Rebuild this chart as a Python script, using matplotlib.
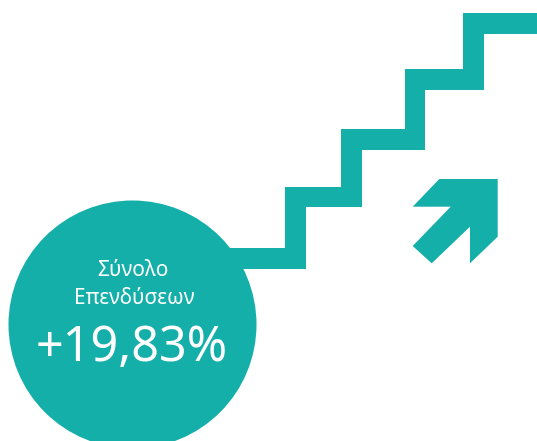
import matplotlib
matplotlib.use("Agg")
import matplotlib.pyplot as plt
from matplotlib.patches import Circle, Polygon

# ---- content ----
label_lines = ["Σύνολο", "Επενδύσεων"]
total_change_pct = 19.83

# ---- decoration geometry (pixel space of a 537x441 canvas) ----
W, H = 537, 441
tread_top_y = [248.3, 186.7, 129.3, 69.3, 13.3]
riser_left_x = [285.3, 341.3, 404.7, 463.3]
stair_thickness = 20.5
stair_start_x = 200
arrow_x = [439.3, 497.7, 497.7, 470.0, 470.0, 431.7, 412.7, 450.7, 412.7]
arrow_y = [179.0, 179.0, 236.7, 263.3, 226.7, 263.3, 246.0, 206.7, 206.7]
circle_cx, circle_cy, circle_r = 132.5, 324.5, 124.0

teal = "#15AFAA"

fig = plt.figure(figsize=(W / 100, H / 100), dpi=100)
ax = fig.add_axes([0, 0, 1, 1])
ax.set_xlim(0, W)
ax.set_ylim(H, 0)
ax.axis("off")

# staircase outline polygon
t = stair_thickness
outer = [(stair_start_x, tread_top_y[0])]
for i, x in enumerate(riser_left_x):
    outer.append((x, tread_top_y[i]))
    outer.append((x, tread_top_y[i + 1]))
outer.append((W + 5, tread_top_y[-1]))
inner = [(W + 5, tread_top_y[-1] + t)]
for i in range(len(riser_left_x) - 1, -1, -1):
    x = riser_left_x[i] + t
    inner.append((x, tread_top_y[i + 1] + t))
    inner.append((x, tread_top_y[i] + t))
inner.append((stair_start_x, tread_top_y[0] + t))
ax.add_patch(Polygon(outer + inner, closed=True, facecolor=teal, edgecolor="none"))

# arrow
ax.add_patch(Polygon(list(zip(arrow_x, arrow_y)), closed=True, facecolor=teal, edgecolor="none"))

# circle
ax.add_patch(Circle((circle_cx, circle_cy), circle_r, facecolor=teal, edgecolor="none", zorder=3))

lab_fam = ["Noto Sans", "DejaVu Sans"]
ax.text(132.5, 276, label_lines[0], color="white", ha="center", va="baseline",
        fontsize=15, family=lab_fam, weight="light", zorder=4)
ax.text(134, 303.5, label_lines[1], color="white", ha="center", va="baseline",
        fontsize=15, family=lab_fam, weight="light", zorder=4)
value_txt = "+" + f"{total_change_pct:.2f}".replace(".", ",") + "%"
ax.text(131.3, 361, value_txt, color="white", ha="center", va="baseline",
        fontsize=35, family=lab_fam, weight="light", zorder=4)

fig.savefig("out.png", dpi=100, facecolor="white")
